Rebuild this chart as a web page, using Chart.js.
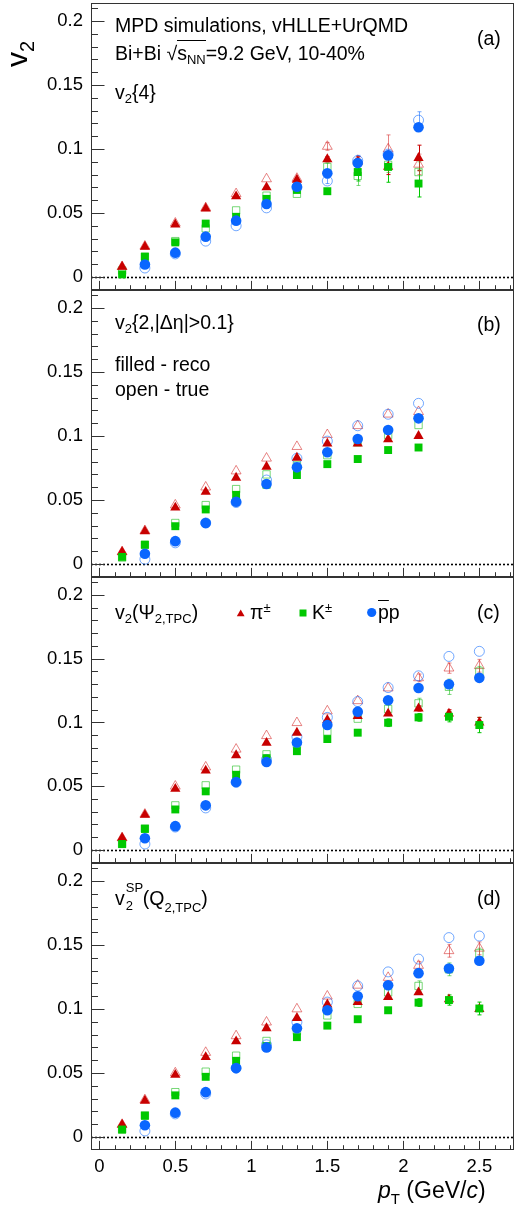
<!DOCTYPE html>
<html>
<head>
<meta charset="utf-8">
<script src="https://cdn.jsdelivr.net/npm/chart.js@4.4.1/dist/chart.umd.min.js"></script>
<style>
    body { margin: 0; background: #fff; }
    #wrap { position: relative; width: 515px; height: 1216px; overflow: hidden;
            font-family: "Liberation Sans", Arial, sans-serif; color: #000; }
    #wrap canvas { position: absolute; left: 0; }
    .lbl { position: absolute; line-height: 1; white-space: nowrap; }
    .sb { font-size: 13px; position: relative; top: 4px; }
    .sp { font-size: 13px; position: relative; top: -7px; }
    .ov { text-decoration: overline; }
</style>
</head>
<body>
<div id="wrap">
    <canvas id="panelA" width="515" height="290" style="top:0"></canvas>
    <canvas id="panelB" width="515" height="287" style="top:290px"></canvas>
    <canvas id="panelC" width="515" height="286" style="top:577px"></canvas>
    <canvas id="panelD" width="515" height="353" style="top:863px"></canvas>
</div>
<script>
/* ---------- Data ---------- */
const ptPiK = [0.15, 0.3, 0.5, 0.7, 0.9, 1.1, 1.3, 1.5, 1.7, 1.9, 2.1, 2.3, 2.5];
const ptP   = [0.3, 0.5, 0.7, 0.9, 1.1, 1.3, 1.5, 1.7, 1.9, 2.1, 2.3, 2.5];
const yTickVals = [0, 0.05, 0.1, 0.15, 0.2];
const xTickVals = [0, 0.5, 1, 1.5, 2, 2.5];

// (a) v2{4}
const piRecoA = [0.008, 0.0236, 0.041, 0.0535, 0.063, 0.070, 0.076, 0.092, 0.090, 0.086, 0.093];
const piTrueA = [0.008, 0.024, 0.042, 0.054, 0.065, 0.0766, 0.077, 0.102, 0.091, 0.100, 0.088];
const kRecoA  = [0.002, 0.0157, 0.027, 0.0417, 0.047, 0.061, 0.068, 0.067, 0.082, 0.086, 0.073];
const kTrueA  = [0.005, 0.016, 0.028, 0.038, 0.052, 0.0635, 0.065, 0.086, 0.079, 0.0876, 0.082];
const pRecoA  = [0.0097, 0.019, 0.0315, 0.044, 0.057, 0.0705, 0.081, 0.089, 0.095, 0.117];
const pTrueA  = [0.007, 0.018, 0.028, 0.040, 0.054, 0.070, 0.075, 0.091, 0.096, 0.1225];
const piRecoErrA = [0, 0, 0, 0, 0, 0, 0, 0.002, 0.004, 0.006, 0.010];
const piTrueErrA = [0, 0, 0, 0, 0, 0, 0, 0.003, 0.003, 0.011, 0.008];
const kRecoErrA  = [0, 0, 0, 0, 0, 0, 0, 0.002, 0.007, 0.012, 0.0105];
const kTrueErrA  = [0, 0, 0, 0, 0, 0, 0, 0.003, 0.0075, 0.006, 0.008];
const pTrueErrA  = [0, 0, 0, 0, 0, 0, 0.002, 0.004, 0.003, 0.0066];

// (b) v2{2,|deta|>0.1}
const piRecoB = [0.0094, 0.0256, 0.044, 0.0564, 0.0674, 0.076, 0.083, 0.094, 0.094, 0.0974, 0.100];
const piTrueB = [0.0094, 0.026, 0.046, 0.060, 0.0726, 0.0826, 0.0917, 0.101, 0.108, 0.117, 0.119];
const kRecoB  = [0.0055, 0.015, 0.0295, 0.0426, 0.054, 0.062, 0.0695, 0.078, 0.082, 0.089, 0.091];
const kTrueB  = [0.005, 0.015, 0.032, 0.046, 0.0585, 0.070, 0.077, 0.085, 0.095, 0.1008, 0.1086];
const pRecoB  = [0.008, 0.0178, 0.032, 0.0486, 0.0625, 0.0755, 0.0873, 0.0977, 0.1047, 0.1138];
const pTrueB  = [0.0037, 0.0165, 0.032, 0.048, 0.0656, 0.0826, 0.096, 0.108, 0.117, 0.1255];

// (c) v2(Psi2,TPC)
const piRecoC = [0.0095, 0.0276, 0.048, 0.0623, 0.0743, 0.084, 0.092, 0.102, 0.105, 0.107, 0.111, 0.107, 0.100];
const piTrueC = [0.0095, 0.028, 0.050, 0.065, 0.079, 0.0896, 0.0998, 0.109, 0.117, 0.127, 0.135, 0.1426, 0.1445];
const kRecoC  = [0.0047, 0.0165, 0.0318, 0.046, 0.059, 0.072, 0.0775, 0.087, 0.092, 0.0998, 0.104, 0.1045, 0.098];
const kTrueC  = [0.0047, 0.017, 0.035, 0.0507, 0.063, 0.075, 0.083, 0.093, 0.103, 0.1106, 0.115, 0.128, 0.140];
const pRecoC  = [0.0092, 0.0187, 0.035, 0.0533, 0.069, 0.0843, 0.098, 0.1085, 0.1174, 0.127, 0.130, 0.135];
const pTrueC  = [0.0047, 0.018, 0.033, 0.053, 0.071, 0.0888, 0.104, 0.1164, 0.1274, 0.1366, 0.1518, 0.1558];
const piRecoErrC = [0, 0, 0, 0, 0, 0, 0, 0, 0, 0, 0.002, 0.003, 0.004];
const piTrueErrC = [0, 0, 0, 0, 0, 0, 0, 0, 0, 0, 0.003, 0.004, 0.005];
const kRecoErrC  = [0, 0, 0, 0, 0, 0, 0, 0, 0, 0.003, 0.003, 0.004, 0.006];
const kTrueErrC  = [0, 0, 0, 0, 0, 0, 0, 0, 0, 0.004, 0.004, 0.006, 0.004];

// (d) v2SP(Q2,TPC)
const piRecoD = [0.0097, 0.0283, 0.0485, 0.0624, 0.0747, 0.085, 0.093, 0.1035, 0.1054, 0.1094, 0.113, 0.1075, 0.100];
const piTrueD = [0.0097, 0.029, 0.050, 0.066, 0.079, 0.0897, 0.100, 0.110, 0.1185, 0.1246, 0.134, 0.1455, 0.1474];
const kRecoD  = [0.0058, 0.0165, 0.0325, 0.047, 0.0595, 0.071, 0.078, 0.087, 0.092, 0.099, 0.105, 0.107, 0.1004];
const kTrueD  = [0.0058, 0.017, 0.035, 0.051, 0.0635, 0.075, 0.083, 0.095, 0.104, 0.113, 0.118, 0.131, 0.1435];
const pRecoD  = [0.0092, 0.019, 0.035, 0.0538, 0.070, 0.085, 0.099, 0.110, 0.1185, 0.128, 0.1317, 0.1377];
const pTrueD  = [0.0047, 0.018, 0.0336, 0.0538, 0.072, 0.0897, 0.1054, 0.118, 0.129, 0.139, 0.1558, 0.157];
const piTrueErrD = [0, 0, 0, 0, 0, 0, 0, 0, 0, 0, 0.003, 0.005, 0.005];
const kRecoErrD  = [0, 0, 0, 0, 0, 0, 0, 0, 0, 0.002, 0.003, 0.004, 0.005];
const kTrueErrD  = [0, 0, 0, 0, 0, 0, 0, 0, 0, 0.003, 0.004, 0.005, 0.004];

/* ---------- Style ---------- */
const FONT = '"Liberation Sans", Arial, sans-serif';
const col = {
    red: "#c80000", green: "#00c800", blue: "#0a66ff",
    redOpen: "rgba(215,50,50,0.6)", greenOpen: "rgba(30,190,30,0.6)", blueOpen: "rgba(20,110,255,0.6)"
};
const X_MIN = -0.0546, X_MAX = 2.728;
const Y_MIN = -0.0102, Y_MAX = 0.2141;

function pts(xs, ys) { return ys.map(function (v, i) { return { x: xs[i], y: v }; }); }

function filledSet(data, color, style, r, errs) {
    return { data: data, errors: errs || null, pointStyle: style, pointRadius: r, pointBackgroundColor: color,
             pointBorderColor: color, pointBorderWidth: 0, showLine: false };
}
function openSet(data, color, style, r, errs) {
    return { data: data, errors: errs || null, pointStyle: style, pointRadius: r, pointBackgroundColor: "rgba(0,0,0,0)",
             pointBorderColor: color, pointBorderWidth: 1, showLine: false };
}

function makeSets(pi, piT, k, kT, p, pT, e) {
    e = e || {};
    // index 0 is drawn last (on top)
    return [
        filledSet(pts(ptP, p), col.blue, "circle", 5.3, e.p),
        filledSet(pts(ptPiK, k), col.green, "rect", 5.6, e.k),
        filledSet(pts(ptPiK, pi), col.red, "triangle", 5.9, e.pi),
        openSet(pts(ptP, pT), col.blueOpen, "circle", 5, e.pT),
        openSet(pts(ptPiK, kT), col.greenOpen, "rect", 5.2, e.kT),
        openSet(pts(ptPiK, piT), col.redOpen, "triangle", 5.7, e.piT)
    ];
}

/* ---------- Frame, inner ticks, zero line, error bars ---------- */
const framePlugin = {
    id: "rootFrame",
    beforeDatasetsDraw: function (chart) {
        const ctx = chart.ctx, a = chart.chartArea, ys = chart.scales.y;
        const y0 = Math.round(ys.getPixelForValue(0)) + 0.5;
        ctx.save();
        ctx.strokeStyle = "#000";
        ctx.lineWidth = 1.6;
        ctx.setLineDash([2, 2]);
        ctx.beginPath();
        ctx.moveTo(a.left, y0);
        ctx.lineTo(a.right, y0);
        ctx.stroke();
        ctx.setLineDash([]);
        ctx.lineWidth = 1;
        chart.data.datasets.forEach(function (ds, di) {
            if (!ds.errors) return;
            const meta = chart.getDatasetMeta(di);
            ctx.strokeStyle = ds.pointBorderColor;
            ctx.beginPath();
            ds.errors.forEach(function (err, i) {
                if (!err || !meta.data[i]) return;
                const px = Math.round(meta.data[i].x) + 0.5;
                const v = ds.data[i].y;
                const top = ys.getPixelForValue(v + err), bot = ys.getPixelForValue(v - err);
                ctx.moveTo(px, top); ctx.lineTo(px, bot);
                ctx.moveTo(px - 2, top); ctx.lineTo(px + 2, top);
                ctx.moveTo(px - 2, bot); ctx.lineTo(px + 2, bot);
            });
            ctx.stroke();
        });
        ctx.restore();
    },
    afterDraw: function (chart) {
        const ctx = chart.ctx, a = chart.chartArea;
        const xs = chart.scales.x, ys = chart.scales.y;
        const L = Math.round(a.left) + 0.5, R = Math.round(a.right) - 0.5;
        const T = Math.round(a.top) + 0.5, B = Math.round(a.bottom) - 0.5;
        ctx.save();
        ctx.strokeStyle = "#333";
        ctx.lineWidth = 1;
        ctx.strokeRect(L, T, R - L, B - T);
        ctx.beginPath();
        for (let i = 0; i <= 21; i++) {
            const py = Math.round(ys.getPixelForValue(i * 0.01)) + 0.5;
            ctx.moveTo(L, py);
            ctx.lineTo(L + (i % 5 === 0 ? 13 : 6.5), py);
        }
        for (let i = 0; i <= 27; i++) {
            const px = Math.round(xs.getPixelForValue(i * 0.1)) + 0.5;
            ctx.moveTo(px, B);
            ctx.lineTo(px, B - (i % 5 === 0 ? 8.6 : 4.3));
        }
        ctx.stroke();
        ctx.restore();
    }
};

/* ---------- Marker legend for panel (c) ---------- */
const legendPlugin = {
    id: "markerLegend",
    afterDraw: function (chart) {
        if (!chart.options.plugins.markerLegend) return;
        const ctx = chart.ctx;
        ctx.save();
        ctx.fillStyle = col.red;
        ctx.beginPath();
        ctx.moveTo(240.7, 32.5); ctx.lineTo(244.6, 39.3); ctx.lineTo(236.8, 39.3);
        ctx.closePath(); ctx.fill();
        ctx.fillStyle = col.green;
        ctx.fillRect(299.5, 32.5, 7, 7);
        ctx.fillStyle = col.blue;
        ctx.beginPath(); ctx.arc(371.7, 35.5, 4.6, 0, Math.PI * 2); ctx.fill();
        ctx.restore();
    }
};

function yAxis() {
    return {
        type: "linear", min: Y_MIN, max: Y_MAX,
        grid: { display: false, drawTicks: false }, border: { display: false },
        ticks: {
            color: "#000", font: { family: FONT, size: 18.5 }, padding: 8, autoSkip: false,
            callback: function (v) { return String(Number(v.toFixed(2))); }
        },
        afterBuildTicks: function (s) { s.ticks = yTickVals.map(function (v) { return { value: v }; }); },
        afterFit: function (s) { s.width = 91; s.paddingTop = 0; s.paddingBottom = 0; }
    };
}
function xAxis(showLabels) {
    return {
        type: "linear", min: X_MIN, max: X_MAX, display: showLabels,
        grid: { display: false, drawTicks: false }, border: { display: false },
        ticks: {
            color: "#000", font: { family: FONT, size: 18.5 }, padding: 6, autoSkip: false, maxRotation: 0,
            callback: function (v) { return String(Number(v.toFixed(1))); }
        },
        afterBuildTicks: function (s) { s.ticks = xTickVals.map(function (v) { return { value: v }; }); },
        afterFit: function (s) { s.height = showLabels ? 66 : 0; s.paddingLeft = 0; s.paddingRight = 0; }
    };
}

function makePanel(id, sets, padTop, showX, legend) {
    return new Chart(document.getElementById(id), {
        type: "scatter",
        data: { datasets: sets },
        options: {
            responsive: false, animation: false, devicePixelRatio: 1,
            layout: { autoPadding: false, padding: { top: padTop, right: 1, bottom: 0, left: 0 } },
            scales: { x: xAxis(showX), y: yAxis() },
            plugins: { legend: { display: false }, tooltip: { enabled: false }, markerLegend: legend }
        },
        plugins: [framePlugin, legendPlugin]
    });
}

/* ---------- Text ---------- */
function label(html, x, base, size, extra) {
    const el = document.createElement("div");
    el.className = "lbl";
    el.style.left = x + "px";
    el.style.top = (base - 0.8465 * size) + "px";
    el.style.fontSize = size + "px";
    if (extra) el.style.cssText += extra;
    el.innerHTML = html;
    document.getElementById("wrap").appendChild(el);
    return el;
}

function drawLabels() {
    const fs = 19.5;
    label("MPD simulations, vHLLE+UrQMD", 115, 33, fs);
    label('Bi+Bi <span style="font-weight:300">&radic;</span><span style="border-top:1px solid #000;padding-top:1px">s<span class="sb">NN</span></span>=9.2 GeV, 10-40%', 115, 61, fs);
    label('v<span class="sb">2</span>{4}', 115, 100, fs);
    label("(a)", 477, 46, fs);

    label('v<span class="sb">2</span>{2,|&Delta;&eta;|&gt;0.1}', 115, 330, fs);
    label("(b)", 477, 332, fs);
    label("filled - reco", 115, 372, fs);
    label("open - true", 115, 397, fs);

    label('v<span class="sb">2</span>(&Psi;<span class="sb">2,TPC</span>)', 115, 620, fs);
    label('&pi;<span class="sp">&plusmn;</span>', 250, 620, fs);
    label('K<span class="sp">&plusmn;</span>', 312, 620, fs);
    label('<span class="ov">p</span>p', 378, 620, fs);
    label("(c)", 477, 620, fs);

    label('v<span style="display:inline-block;position:relative;width:18px;height:10px">' +
          '<span style="position:absolute;left:1px;top:-14px;font-size:13px">SP</span>' +
          '<span style="position:absolute;left:1px;top:4px;font-size:13px">2</span></span>' +
          '(Q<span class="sb" style="top:7px">2,TPC</span>)', 115, 906, fs);
    label("(d)", 477, 906, fs);

    label('<i>p</i><span class="sb" style="top:6px;font-size:15px">T</span> (GeV/<i>c</i>)', 378, 1198, 23);
    label('v<span class="sb" style="font-size:20px;top:7px">2</span>', 2, 92.5, 30,
          "transform:rotate(-90deg);transform-origin:0 0;");
}

/* =======================================================
   INIT
   ======================================================= */
makePanel("panelA", makeSets(piRecoA, piTrueA, kRecoA, kTrueA, pRecoA, pTrueA,
    { pi: piRecoErrA, piT: piTrueErrA, k: kRecoErrA, kT: kTrueErrA, pT: pTrueErrA }), 3, false, false);
makePanel("panelB", makeSets(piRecoB, piTrueB, kRecoB, kTrueB, pRecoB, pTrueB), 0, false, false);
makePanel("panelC", makeSets(piRecoC, piTrueC, kRecoC, kTrueC, pRecoC, pTrueC,
    { pi: piRecoErrC, piT: piTrueErrC, k: kRecoErrC, kT: kTrueErrC }), 0, false, true);
makePanel("panelD", makeSets(piRecoD, piTrueD, kRecoD, kTrueD, pRecoD, pTrueD,
    { piT: piTrueErrD, k: kRecoErrD, kT: kTrueErrD }), 0, true, false);
drawLabels();
</script>
</body>
</html>
